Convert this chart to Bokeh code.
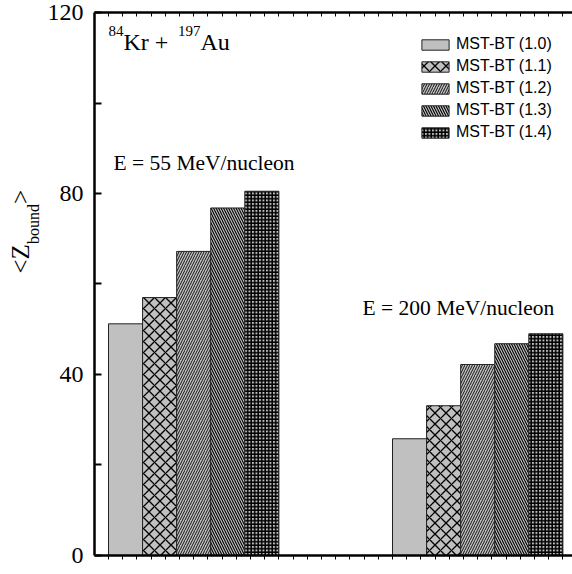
from math import pi
from bokeh.plotting import figure
from bokeh.models import (ColumnDataSource, Range1d, LinearAxis, SingleIntervalTicker,
                          FixedTicker, Legend, LegendItem, CustomJSTickFormatter)
from bokeh.core.properties import value
from bokeh.embed import file_html
from bokeh.resources import INLINE

# ---------------- data ----------------
energies = ["E = 55 MeV/nucleon", "E = 200 MeV/nucleon"]
group_pos = [1, 2]
series_names = ["MST-BT (1.0)", "MST-BT (1.1)", "MST-BT (1.2)", "MST-BT (1.3)", "MST-BT (1.4)"]
mst_10 = [51.2, 25.8]
mst_11 = [57.0, 33.1]
mst_12 = [67.2, 42.2]
mst_13 = [76.8, 46.8]
mst_14 = [80.5, 49.0]
y_ticks = [0, 40, 80, 120]
y_minor = [20, 60, 100]
Y_MIN, Y_MAX = 0, 120

series_vals = [mst_10, mst_11, mst_12, mst_13, mst_14]

# ---------------- layout / styling ----------------
X0, X1 = 0.3197, 2.3338      # full canvas width in x-data units
Y0, Y1 = -4.199, 122.652     # full canvas height in y-data units
AXIS_X = 0.6507              # where the y axis sits
offsets = [-0.24, -0.12, 0.0, 0.12, 0.24]
hatches = [" ", "x", "/", "\\", "+"]
hscales = [10, 11, 5, 5, 3.5]
hweights = [1, 1.3, 0.9, 1.1, 1.6]
SERIF = "Liberation Serif"

p = figure(width=572, height=574, output_backend="svg", toolbar_location=None,
           x_range=Range1d(X0, X1), y_range=Range1d(Y0, Y1),
           min_border_left=0, min_border_right=0, min_border_top=0, min_border_bottom=0,
           background_fill_color="white", border_fill_color="white")
p.xgrid.visible = False
p.ygrid.visible = False
p.outline_line_color = None

# y axis (fixed inside the frame)
ya = p.yaxis[0]
ya.fixed_location = AXIS_X
ya.bounds = (Y_MIN, Y_MAX)
ya.ticker = FixedTicker(ticks=y_ticks, minor_ticks=y_minor)
ya.major_tick_in = 7
ya.major_tick_out = 0
ya.minor_tick_in = 7
ya.minor_tick_out = 0
ya.major_tick_line_width = 2
ya.minor_tick_line_width = 2
ya.axis_line_width = 2.5
ya.major_label_text_font = SERIF
ya.major_label_text_font_size = "24px"
ya.major_label_text_color = "black"
ya.major_label_standoff = 11

# bottom axis
xa = p.xaxis[0]
xa.fixed_location = Y_MIN
xa.bounds = (AXIS_X, X1)
xa.ticker = SingleIntervalTicker(interval=0.05, num_minor_ticks=0)
xa.formatter = CustomJSTickFormatter(code="return ''")
xa.major_label_text_font_size = "0px"
xa.major_label_standoff = 0
xa.major_tick_in = 0
xa.major_tick_out = 4
xa.major_tick_line_width = 1
xa.axis_line_width = 2.5

# top axis
ta = LinearAxis(ticker=SingleIntervalTicker(interval=0.05, num_minor_ticks=0),
                formatter=CustomJSTickFormatter(code="return ''"),
                fixed_location=Y_MAX, bounds=(AXIS_X, X1),
                major_label_text_font_size="0px", major_label_standoff=0,
                major_tick_in=4, major_tick_out=0, major_tick_line_width=1,
                axis_line_width=2.5)
p.add_layout(ta, "above")

# bars
items = []
for name, vals, off, hp, hs, hw in zip(series_names, series_vals, offsets, hatches, hscales, hweights):
    src = ColumnDataSource(dict(x=[g + off for g in group_pos], top=vals))
    r = p.vbar(x="x", top="top", bottom=0, width=0.12, source=src,
               fill_color="#c0c0c0", line_color="#222222", line_width=1,
               hatch_pattern=hp, hatch_scale=hs, hatch_weight=hw, hatch_color="black")
    items.append(LegendItem(label=name, renderers=[r]))

legend = Legend(items=items, location=(418, 433), padding=0, margin=0, spacing=4,
                glyph_width=34, glyph_height=13, label_height=18, label_standoff=4,
                label_text_font="Liberation Sans", label_text_font_size="16px",
                label_text_color="black", border_line_color=None, background_fill_alpha=0)
p.add_layout(legend)

# text annotations as text glyphs (data coordinates, vertically centred)
def txt(t, x, y, size, angle=0.0):
    p.text(x=[x], y=[y], text=[t], angle=angle, text_font=value(SERIF),
           text_font_size=value(size), text_color="black",
           text_align="left", text_baseline="middle")

txt("84", 0.7000, 115.82, "15px")
txt("Kr + ", 0.7528, 113.50, "24px")
txt("197", 0.9447, 115.82, "15px")
txt("Au", 1.0239, 113.50, "24px")
txt(energies[0], 0.7176, 86.69, "21.5px")
txt(energies[1], 1.5944, 54.64, "21.5px")

# y-axis title <Z_bound>
txt("<Z", 0.3886, 62.32, "25px", pi / 2)
txt("bound", 0.4345, 68.82, "16px", pi / 2)
txt(">", 0.3886, 77.66, "25px", pi / 2)

open("out.html", "w").write(file_html(p, INLINE))
